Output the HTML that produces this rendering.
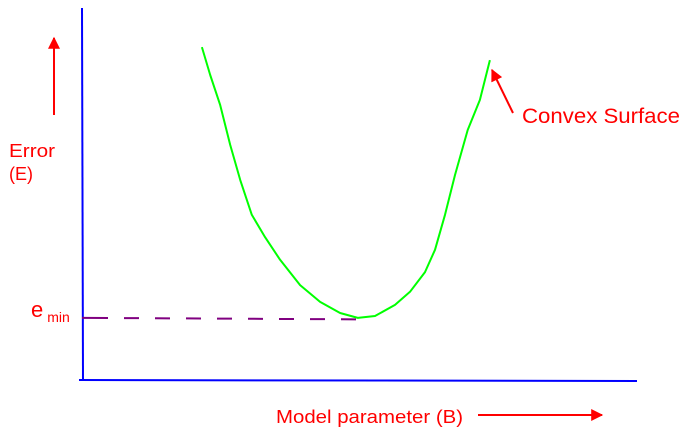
<!DOCTYPE html>
<html><head><meta charset="utf-8"><style>
html,body{margin:0;padding:0;background:#fff;}
svg{display:block;font-family:"Liberation Sans","DejaVu Sans",sans-serif;}
</style></head><body>
<svg id="chart" width="689" height="438" viewBox="0 0 689 438" xmlns="http://www.w3.org/2000/svg">
<defs>
<marker id="ahBig" viewBox="0 0 10 10" refX="9" refY="5" markerWidth="22" markerHeight="12" markerUnits="userSpaceOnUse" orient="auto"><path d="M0,0 L10,5 L0,10 z" fill="#ff0000"/></marker>
</defs>
<line x1="82" y1="8" x2="83" y2="381" stroke="#0000ff" stroke-width="2"/>
<line x1="79" y1="380" x2="637" y2="381" stroke="#0000ff" stroke-width="2"/>
<line id="emin" x1="82" x2="362" stroke="#800080" stroke-width="2" stroke-dasharray="26,16,15,16,15,16,15,16,15,16,15,16,15,16,15,16,15,16"/>
<path id="curve" fill="none" stroke="#00ff00" stroke-width="2" stroke-linejoin="round"/>
<line x1="54" y1="115" x2="54" y2="38" stroke="#ff0000" stroke-width="2" marker-end="url(#ahBig)"/>
<text x="9" y="157" font-size="18" fill="#ff0000" textLength="46" lengthAdjust="spacingAndGlyphs">Error</text>
<text x="9" y="180" font-size="18" fill="#ff0000" textLength="24" lengthAdjust="spacingAndGlyphs">(E)</text>
<text x="31" y="317" font-size="22" fill="#ff0000">e<tspan font-size="14" dx="4" dy="5">min</tspan></text>
<text x="276" y="423" font-size="18" fill="#ff0000" textLength="187" lengthAdjust="spacingAndGlyphs">Model parameter (B)</text>
<line x1="478" y1="415" x2="602" y2="415" stroke="#ff0000" stroke-width="2" marker-end="url(#ahBig)"/>
<line x1="513" y1="113" x2="492" y2="70" stroke="#ff0000" stroke-width="2" marker-end="url(#ahBig)"/>
<text x="522" y="123" font-size="21" fill="#ff0000" textLength="158" lengthAdjust="spacingAndGlyphs">Convex Surface</text>
</svg>
<script>
const paramValues = [21.6,23.1,24.9,26.7,28.5,30.6,33,35.7,39.3,42.9,46.5,49.7,52.8,56.4,59.1,61.8,63.6,65.4,67.2,69.5,71.7,73.5];
const errorValues = [89.5,82,73.9,63.2,53.8,44.4,38.4,32.3,25.5,21,18,16.7,17.2,20.2,23.7,29,35,44.4,55.1,67.2,75.3,86];
const eMin = 16.7;
const eMinParam = 50.1;
function xScale(v){return 82 + v*5.55;}
function yScale(v){return 380 - v*3.72;}
const d = paramValues.map((p,i)=>(i?'L':'M')+xScale(p).toFixed(1)+','+yScale(errorValues[i]).toFixed(1)).join(' ');
document.getElementById('curve').setAttribute('d', d);
const em = document.getElementById('emin');
em.setAttribute('y1', yScale(eMin));
em.setAttribute('y2', yScale(eMin)+1.5);
em.setAttribute('x2', xScale(eMinParam));
</script>
</body></html>
